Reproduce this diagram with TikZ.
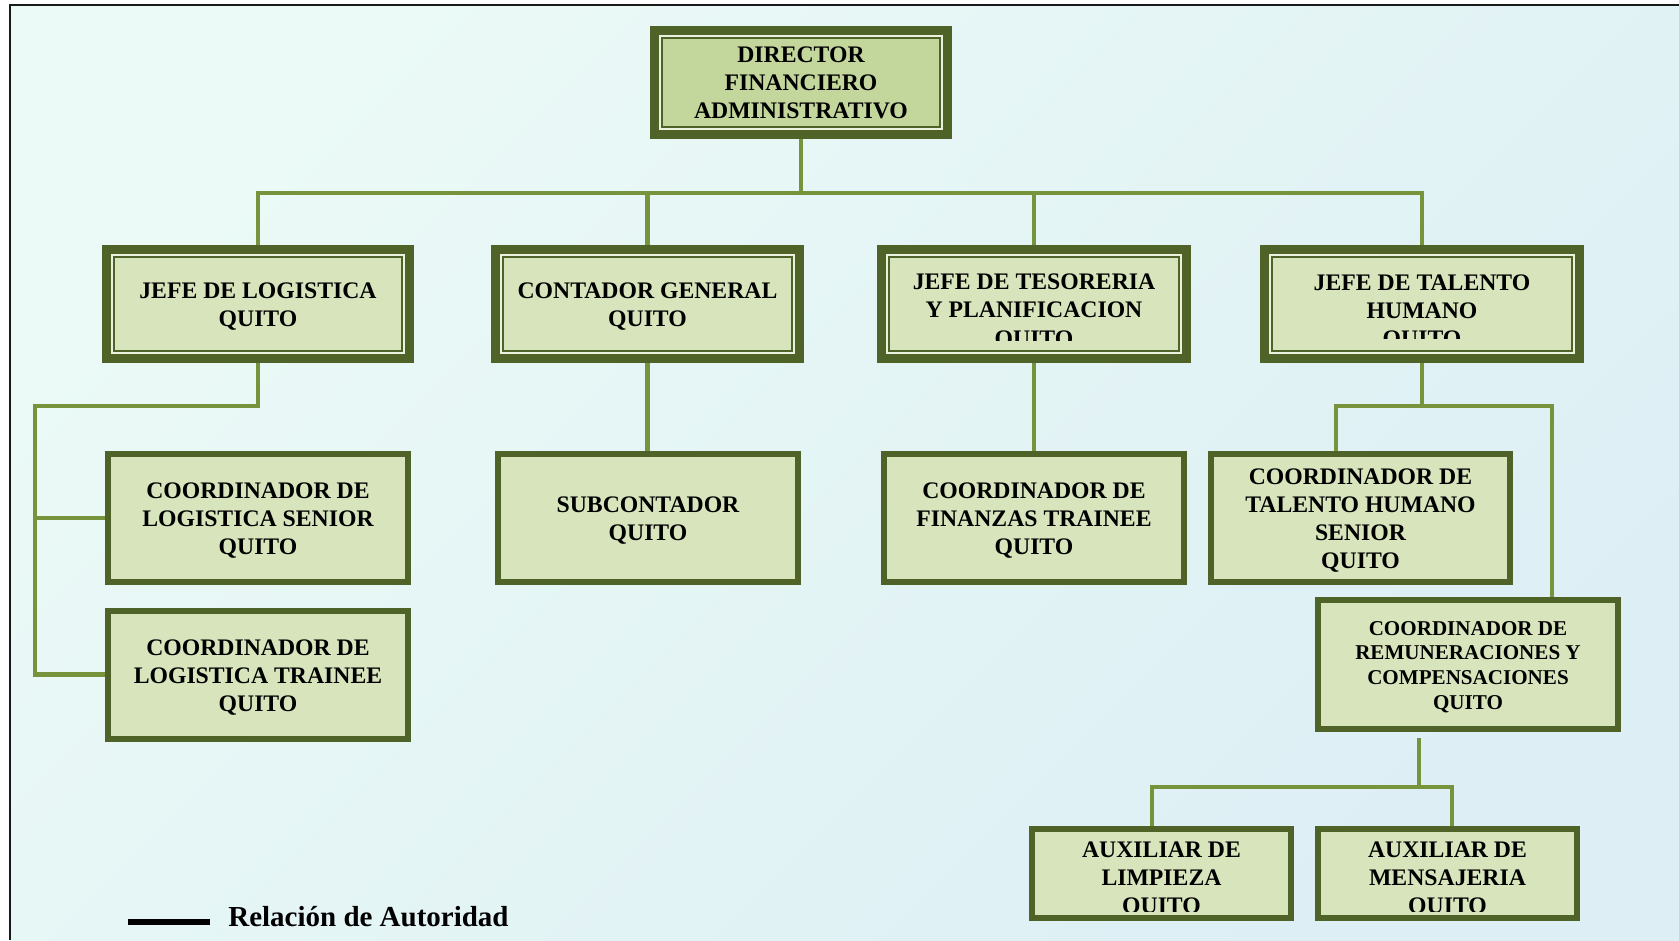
\documentclass[tikz,border=0pt]{standalone}
\usepackage{fontspec}
\setmainfont{Liberation Serif}
\usepackage{tikz}
\usetikzlibrary{calc}
\usepackage{xcolor}
\definecolor{oliva}{HTML}{4F6228}
\definecolor{enlace}{HTML}{77933C}
\definecolor{relleno}{HTML}{D7E4BC}
\definecolor{rellenodir}{HTML}{C3D69B}
\definecolor{brillo}{HTML}{EAF1DC}
\definecolor{fondoA}{HTML}{EBFAF6}
\definecolor{fondoB}{HTML}{DDEFF5}
\newcommand{\alto}{\rule{0pt}{0.9em}}

\begin{document}
\begin{tikzpicture}[x=0.02cm,y=-0.02cm,font=\bfseries\fontsize{13.5}{16}\selectfont,line cap=butt,
  jefe/.style={draw=oliva,line width=0.18cm,fill=relleno,align=center,inner sep=0pt,minimum width=6.08cm,minimum height=2.18cm},
  cargo/.style={draw=oliva,line width=0.12cm,fill=relleno,align=center,inner sep=0pt,minimum width=6cm,minimum height=2.56cm},
  auxiliar/.style={cargo,minimum width=5.18cm,minimum height=1.78cm},
  texto/.style={align=center,inner sep=0pt},
  linea/.style={draw=enlace,line width=0.09cm},
  filo/.style={draw=oliva,line width=0.04cm},
  luz/.style={draw=brillo,line width=0.04cm}]
\useasboundingbox (0,0) rectangle (1679,940);
\shade[top color=fondoA,bottom color=fondoB,shading angle=45] (10,5) rectangle (1679,940);
\draw[black!90,line width=0.045cm] (10,940) -- (10,5) -- (1679,5);

\node[jefe,fill=rellenodir,minimum width=5.86cm,minimum height=2.08cm] (dir) at (801,82.5) {DIRECTOR\\FINANCIERO\\ADMINISTRATIVO};
\node[jefe,minimum width=6.06cm] (jl) at (258,304) {\alto JEFE DE LOGISTICA\\QUITO};
\node[jefe] (cg) at (647.5,304) {\alto CONTADOR GENERAL\\QUITO};
\node[jefe,minimum width=6.1cm] (jt) at (1034,304) {};
\node[jefe,minimum width=6.3cm] (jth) at (1422,304) {};
\foreach \n in {dir,jl,cg,jt,jth} {
  \draw[luz] ([xshift=0.2cm,yshift=-0.2cm]\n.north west) rectangle ([xshift=-0.2cm,yshift=0.2cm]\n.south east);
  \draw[filo] ([xshift=0.24cm,yshift=-0.24cm]\n.north west) rectangle ([xshift=-0.24cm,yshift=0.24cm]\n.south east);
}
\begin{scope}
\clip (jt.north west) rectangle ([yshift=0.44cm]jt.south east);
\node[texto] (jtt) at ([yshift=-0.16cm]jt.center) {JEFE DE TESORERIA\\Y PLANIFICACION\\QUITO};
\end{scope}
\begin{scope}
\clip (jth.north west) rectangle ([yshift=0.49cm]jth.south east);
\node[texto] (jtht) at ([yshift=-0.17cm]jth.center) {JEFE DE TALENTO\\HUMANO\\QUITO};
\end{scope}

\node[cargo] (cls) at (258,518) {\alto COORDINADOR DE\\LOGISTICA SENIOR\\QUITO};
\node[cargo] (clt) at (258,674.5) {\alto COORDINADOR DE\\LOGISTICA TRAINEE\\QUITO};
\node[cargo] (sub) at (648,518) {\alto SUBCONTADOR\\QUITO};
\node[cargo] (cft) at (1034,518) {\alto COORDINADOR DE\\FINANZAS TRAINEE\\QUITO};
\node[cargo] (cths) at (1360.5,518) {\alto COORDINADOR DE\\TALENTO HUMANO\\SENIOR\\QUITO};
\node[cargo,minimum height=2.58cm,font=\bfseries\fontsize{12}{14}\selectfont] (rem) at (1468,664.5) {\alto COORDINADOR DE\\REMUNERACIONES Y\\COMPENSACIONES\\QUITO};
\node[auxiliar] (auxl) at (1161.5,873.5) {};
\node[auxiliar] (auxm) at (1447.5,873.5) {};
\begin{scope}
\clip (auxl.north west) rectangle ([yshift=0.2cm]auxl.south east);
\node[texto] (auxlt) at ([yshift=-0.12cm]auxl.center) {AUXILIAR DE\\LIMPIEZA\\QUITO};
\end{scope}
\begin{scope}
\clip (auxm.north west) rectangle ([yshift=0.2cm]auxm.south east);
\node[texto] (auxmt) at ([yshift=-0.12cm]auxm.center) {AUXILIAR DE\\MENSAJERIA\\QUITO};
\end{scope}

\draw[linea] (dir.south) -- ++(0,54) coordinate (bus);
\draw[linea] (jl.north) |- (bus) -| (jth.north);
\draw[linea] (cg.north) -- (cg.north |- bus);
\draw[linea] (jt.north) -- (jt.north |- bus);

\coordinate (izq) at (35,406);
\draw[linea] (jl.south) |- (izq) |- (clt.west);
\draw[linea] (cls.west) -- (cls.west -| izq);
\draw[linea] (cg.south) -- (cg.south |- sub.north);
\draw[linea] (jt.south) -- (jt.south |- cft.north);

\coordinate (th1) at (1336,406);
\coordinate (th2) at (1552,406);
\draw[linea] (jth.south) -- (jth.south |- th1);
\draw[linea] (cths.north -| th1) -- (th1) -- (th2) -- (rem.north -| th2);

\coordinate (r0) at (1419,787);
\coordinate (a1) at (1152,787);
\coordinate (a2) at (1452,787);
\draw[linea] (rem.south -| r0) ++(0,6) -- (r0);
\draw[linea] (auxl.north -| a1) -- (a1) -- (a2) -- (auxm.north -| a2);

\draw[line width=0.13cm] (128,922) -- (210,922);
\node[anchor=base west,inner sep=0pt,font=\bfseries\fontsize{16.5}{18}\selectfont] (leyenda) at (228,926) {Relación de Autoridad};
\end{tikzpicture}
\end{document}
